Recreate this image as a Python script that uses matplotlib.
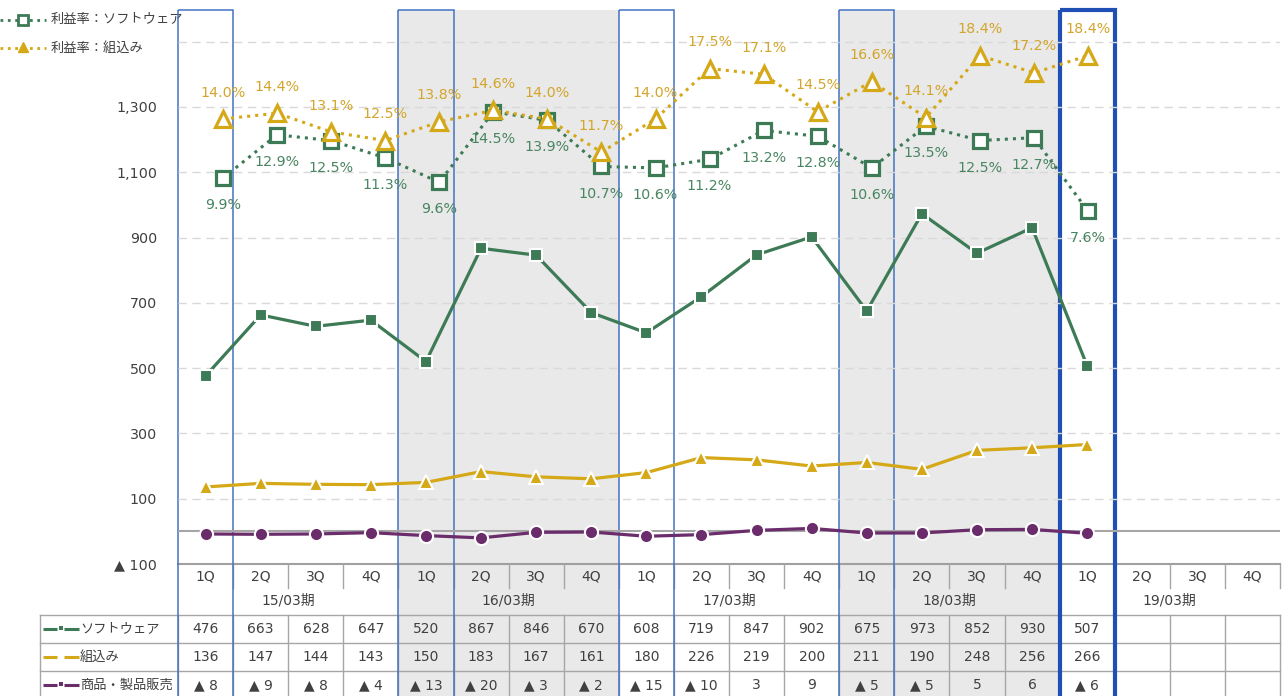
import matplotlib
matplotlib.use("Agg")
import matplotlib.pyplot as plt
from matplotlib.patches import Rectangle

plt.rcParams['font.family'] = ['DejaVu Sans', 'Noto Sans CJK JP']
NUM = ['DejaVu Sans', 'Noto Sans CJK JP']
JP = ['Noto Sans CJK JP', 'DejaVu Sans']

# ---------------- data ----------------
years = ["15/03期", "16/03期", "17/03期", "18/03期", "19/03期"]
quarters = ["1Q", "2Q", "3Q", "4Q"]
software = [476, 663, 628, 647, 520, 867, 846, 670, 608, 719, 847, 902, 675, 973, 852, 930, 507]
embedded = [136, 147, 144, 143, 150, 183, 167, 161, 180, 226, 219, 200, 211, 190, 248, 256, 266]
products = [-8, -9, -8, -4, -13, -20, -3, -2, -15, -10, 3, 9, -5, -5, 5, 6, -6]
sw_margin = [9.9, 12.9, 12.5, 11.3, 9.6, 14.5, 13.9, 10.7, 10.6, 11.2, 13.2, 12.8, 10.6, 13.5, 12.5, 12.7, 7.6]
emb_margin = [14.0, 14.4, 13.1, 12.5, 13.8, 14.6, 14.0, 11.7, 14.0, 17.5, 17.1, 14.5, 16.6, 14.1, 18.4, 17.2, 18.4]
row_names = ["ソフトウェア", "組込み", "商品・製品販売"]
legend_names = ["利益率：ソフトウェア", "利益率：組込み"]
yticks = [-100, 100, 300, 500, 700, 900, 1100, 1300]
ytick_labels = ["▲ 100", "100", "300", "500", "700", "900", "1,100", "1,300"]

green = '#3D7A56'
gold = '#D4A817'
purple = '#6B2C6B'
green_txt = '#4A8562'
gold_txt = '#D3A52B'
txt = '#404040'
grid_c = '#D9D9D9'
line_c = '#A6A6A6'
shade = '#E9E9E9'
blue = '#4472C4'
blue_dark = '#1F4EB4'

W, H = 1284, 696
fig = plt.figure(figsize=(W / 100, H / 100), dpi=100)

# plot area in pixels
PL, PR, PT, PB = 178, 1280, 9, 564
ncol = 20
cw = (PR - PL) / ncol


def rect(l, t, r, b):
    return [l / W, 1 - b / H, (r - l) / W, (b - t) / H]


# background / table layer in pixel coordinates
bg = fig.add_axes([0, 0, 1, 1], zorder=0)
bg.set_xlim(0, W)
bg.set_ylim(H, 0)
bg.axis('off')

edges = [PL + i * cw for i in range(ncol + 1)]
# shaded years (16/03, 18/03)
for yi in (1, 3):
    bg.add_patch(Rectangle((edges[yi * 4], 10), cw * 4, H, color=shade, lw=0, zorder=0))

# table grid
row_lines = [615, 643, 671, 699]
TT = row_lines[0]
for y in row_lines[:3]:
    bg.plot([40, PR], [y, y], color=line_c, lw=1, zorder=1)
bg.plot([PL, PR], [PB, PB], color='#A0A0A0', lw=1.5, zorder=1)
for i, x in enumerate(edges):
    bg.plot([x, x], [TT, H + 5], color=line_c, lw=1, zorder=1)
    if 0 < i:
        bg.plot([x, x], [PB, 588], color=line_c, lw=1, zorder=1)
bg.plot([40, 40], [TT, H + 5], color=line_c, lw=1, zorder=1)

# quarter and year labels
for yi, yl in enumerate(years):
    for qi, q in enumerate(quarters):
        c = yi * 4 + qi
        bg.text((edges[c] + edges[c + 1]) / 2, 576, q, ha='center', va='center', fontsize=10,
                color=txt, family=NUM, zorder=3)
    bg.text((edges[yi * 4] + edges[yi * 4 + 4]) / 2, 601, yl, ha='center', va='center', fontsize=10,
            color=txt, family=NUM, zorder=3)


def fmt(v):
    return f"▲ {abs(v)}" if v < 0 else str(v)


row_y = [(row_lines[k] + row_lines[k + 1]) / 2 for k in range(3)]
for k, series in enumerate([software, embedded, products]):
    for c, v in enumerate(series):
        bg.text((edges[c] + edges[c + 1]) / 2, row_y[k], fmt(v), ha='center', va='center',
                fontsize=10, color=txt, family=NUM, zorder=3)

# row header keys
key_cols = [green, gold, purple]
for k, col in enumerate(key_cols):
    y = row_y[k]
    bg.plot([43, 57], [y, y], color=col, lw=2.2, solid_capstyle='butt', zorder=3)
    bg.plot([64, 79], [y, y], color=col, lw=2.2, solid_capstyle='butt', zorder=3)
    if k != 1:
        bg.plot([60.5], [y - 1], marker='s', ms=2.5, color=col, mew=0, zorder=3)
    bg.text(80, y, row_names[k], ha='left', va='center', fontsize=9.5, color=txt, family=JP, zorder=3)

# blue boxes around 1Q columns
for yi in range(4):
    l = edges[yi * 4]
    bg.add_patch(Rectangle((l, 10), cw, H, fill=False, ec=blue, lw=1.1, zorder=4))
l = edges[16]
bg.add_patch(Rectangle((l, 10), cw, H, fill=False, ec=blue_dark, lw=3.0, zorder=4))

# legend (top-left)
bg.plot([0, 46], [20, 20], ls=':', color=green, lw=2, zorder=3)
bg.plot([23], [20], marker='s', ms=6.5, mfc='white', mec=green, mew=2, zorder=3)
bg.text(51, 20, legend_names[0], ha='left', va='center', fontsize=9.5, color=txt, family=JP)
bg.plot([0, 46], [48, 48], ls=':', color=gold, lw=2, zorder=3)
bg.plot([23], [47], marker='^', ms=7, mfc=gold, mec=gold, mew=1, zorder=3)
bg.text(51, 48, legend_names[1], ha='left', va='center', fontsize=9.5, color=txt, family=JP)

# ---------------- main axes ----------------
ax = fig.add_axes(rect(PL, PT, PR, PB), zorder=1)
ax.patch.set_alpha(0)
ax.set_xlim(-0.5, ncol - 0.5)
ax.set_ylim(-100, 1600)
for s in ax.spines.values():
    s.set_visible(False)
ax.set_xticks([])
ax.set_yticks(yticks)
ax.set_yticklabels(ytick_labels, fontsize=10.3, color=txt, family=NUM)
ax.tick_params(axis='y', length=0, pad=15)
for g in [100, 300, 500, 700, 900, 1100, 1300, 1500]:
    ax.axhline(g, color=grid_c, lw=1, dashes=[6, 4], zorder=0)
ax.axhline(0, color=line_c, lw=1.5, zorder=0)

xs = list(range(len(software)))
ax.plot(xs, software, color=green, lw=2.3, marker='s', ms=8, mfc=green, mec='white', mew=1.5, zorder=3)
ax.plot(xs, embedded, color=gold, lw=2.3, marker='^', ms=10.5, mfc=gold, mec='white', mew=1.5, zorder=3)
ax.plot(xs, products, color=purple, lw=2.3, marker='o', ms=9.5, mfc=purple, mec='white', mew=1.5, zorder=3)

# ---------------- margin axes ----------------
ax2 = fig.add_axes(rect(PL, PT, PR, PB), zorder=2)
ax2.patch.set_alpha(0)
ax2.axis('off')
step = (1088 - 223) / 16
ax2.set_xlim(-(223 - PL) / step, (PR - 223) / step)
ppp = 14.4
ax2.set_ylim(9.9 - (PB - 178) / ppp, 9.9 + (178 - PT) / ppp)

xm = list(range(len(sw_margin)))
ax2.plot(xm, sw_margin, ls=':', color=green, lw=2.2, marker='s', ms=9.5, mfc='white', mec=green, mew=2.3, zorder=3)
ax2.plot(xm, emb_margin, ls=':', color=gold, lw=2.2, marker='^', ms=11.5, mfc='white', mec=gold, mew=2.3, zorder=4)
for x, v in zip(xm, sw_margin):
    ax2.annotate(f"{v:.1f}%", (x, v), xytext=(0, -19.5), textcoords='offset points', ha='center', va='center',
                 fontsize=10.3, color=green_txt, family=NUM, zorder=5)
for x, v in zip(xm, emb_margin):
    ax2.annotate(f"{v:.1f}%", (x, v), xytext=(0, 19), textcoords='offset points', ha='center', va='center',
                 fontsize=10.3, color=gold_txt, family=NUM, zorder=5)

fig.savefig("out.png", dpi=100)
